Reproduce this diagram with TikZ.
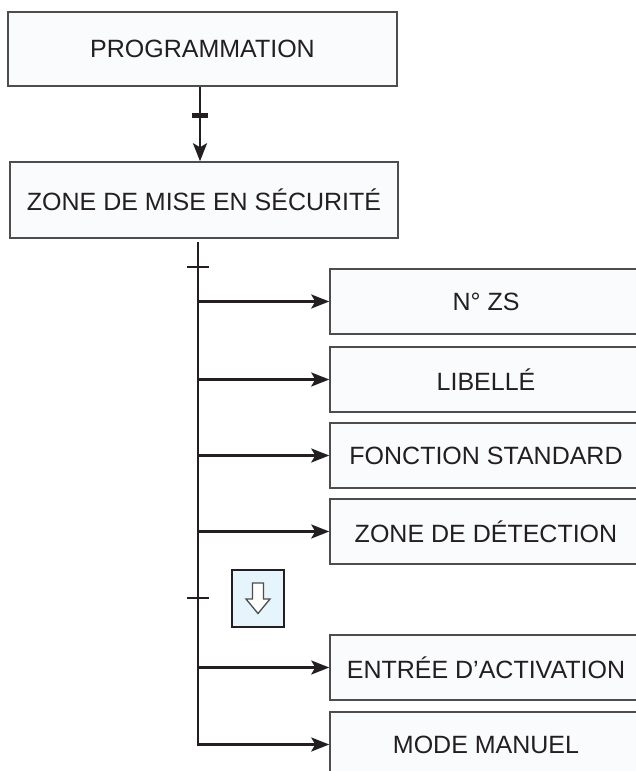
\documentclass[tikz,border=0pt]{standalone}
\usepackage{fontspec}
\setmainfont{Liberation Sans}
\usetikzlibrary{arrows.meta}
\definecolor{boxline}{HTML}{4D4D4D}
\definecolor{boxfill}{HTML}{FAFBFD}
\definecolor{hintfill}{HTML}{E6F4FB}
\definecolor{wire}{HTML}{231F20}
\begin{document}
\begin{tikzpicture}[x=1pt, y=-1pt,
  menu/.style={draw=boxline, line width=1.5pt, fill=boxfill, text=wire,
    minimum width=#1, minimum height=65pt, inner sep=0pt,
    font=\fontsize{25}{30}\selectfont},
  link/.style={draw=wire, line width=2.6pt, -{Stealth[length=18pt, width=14pt, inset=4pt]}},
  trunk/.style={draw=wire, line width=2.6pt},
  tickbar/.style={fill=wire, inner sep=0pt, minimum width=#1, minimum height=2.2pt},
  hint/.style={draw=wire, line width=2pt, fill=hintfill, minimum width=52pt, minimum height=57pt, inner sep=0pt},
  hollowarrow/.style={draw=boxline, line width=1.3pt, fill=white, line join=miter}]
\path[use as bounding box, clip] (0,0) rectangle (636,771);
% top of the menu
\node[menu=389pt, minimum height=74pt] (prog) at (202.5,49) {PROGRAMMATION};
\node[menu=388pt, minimum height=76pt] (zone) at (204,200) {ZONE DE MISE EN SÉCURITÉ};
\draw[link] ([xshift=-2.5pt]prog.south) -- node[tickbar=16pt, minimum height=5pt, pos=0.38] (tk1) {}
  ([xshift=-2.5pt]prog.south |- zone.north);
% sub-entries (boxes run off the right edge)
\foreach \name/\y/\txt in {zs/301.5/N° ZS, lib/379.5/LIBELLÉ, fct/455.5/FONCTION STANDARD,
    det/531.5/ZONE DE DÉTECTION, act/667.5/ENTRÉE D’ACTIVATION, man/744.5/MODE MANUEL}{
  \node[menu=312pt] (\name) at (486,\y) {\txt};
}
\coordinate (spine) at (198,242);
\draw[trunk, -{Stealth[length=18pt, width=14pt, inset=4pt]}] (spine) |- (man.west);
\foreach \name in {zs,lib,fct,det,act}{
  \draw[link] (spine |- \name.west) -- (\name.west);
}
\node[tickbar=22pt] (tk2) at (198,267) {};
\node[tickbar=22pt] (tk3) at (198,598) {};
% page-down hint
\node[hint] (hint) at (258,598.5) {};
\draw[hollowarrow, shift={(hint.center)}] (-5.5,-15.5) -- (5.5,-15.5) -- (5.5,0.5) -- (12,0.5)
  -- (0,15) -- (-12,0.5) -- (-5.5,0.5) -- cycle;
\end{tikzpicture}
\end{document}
